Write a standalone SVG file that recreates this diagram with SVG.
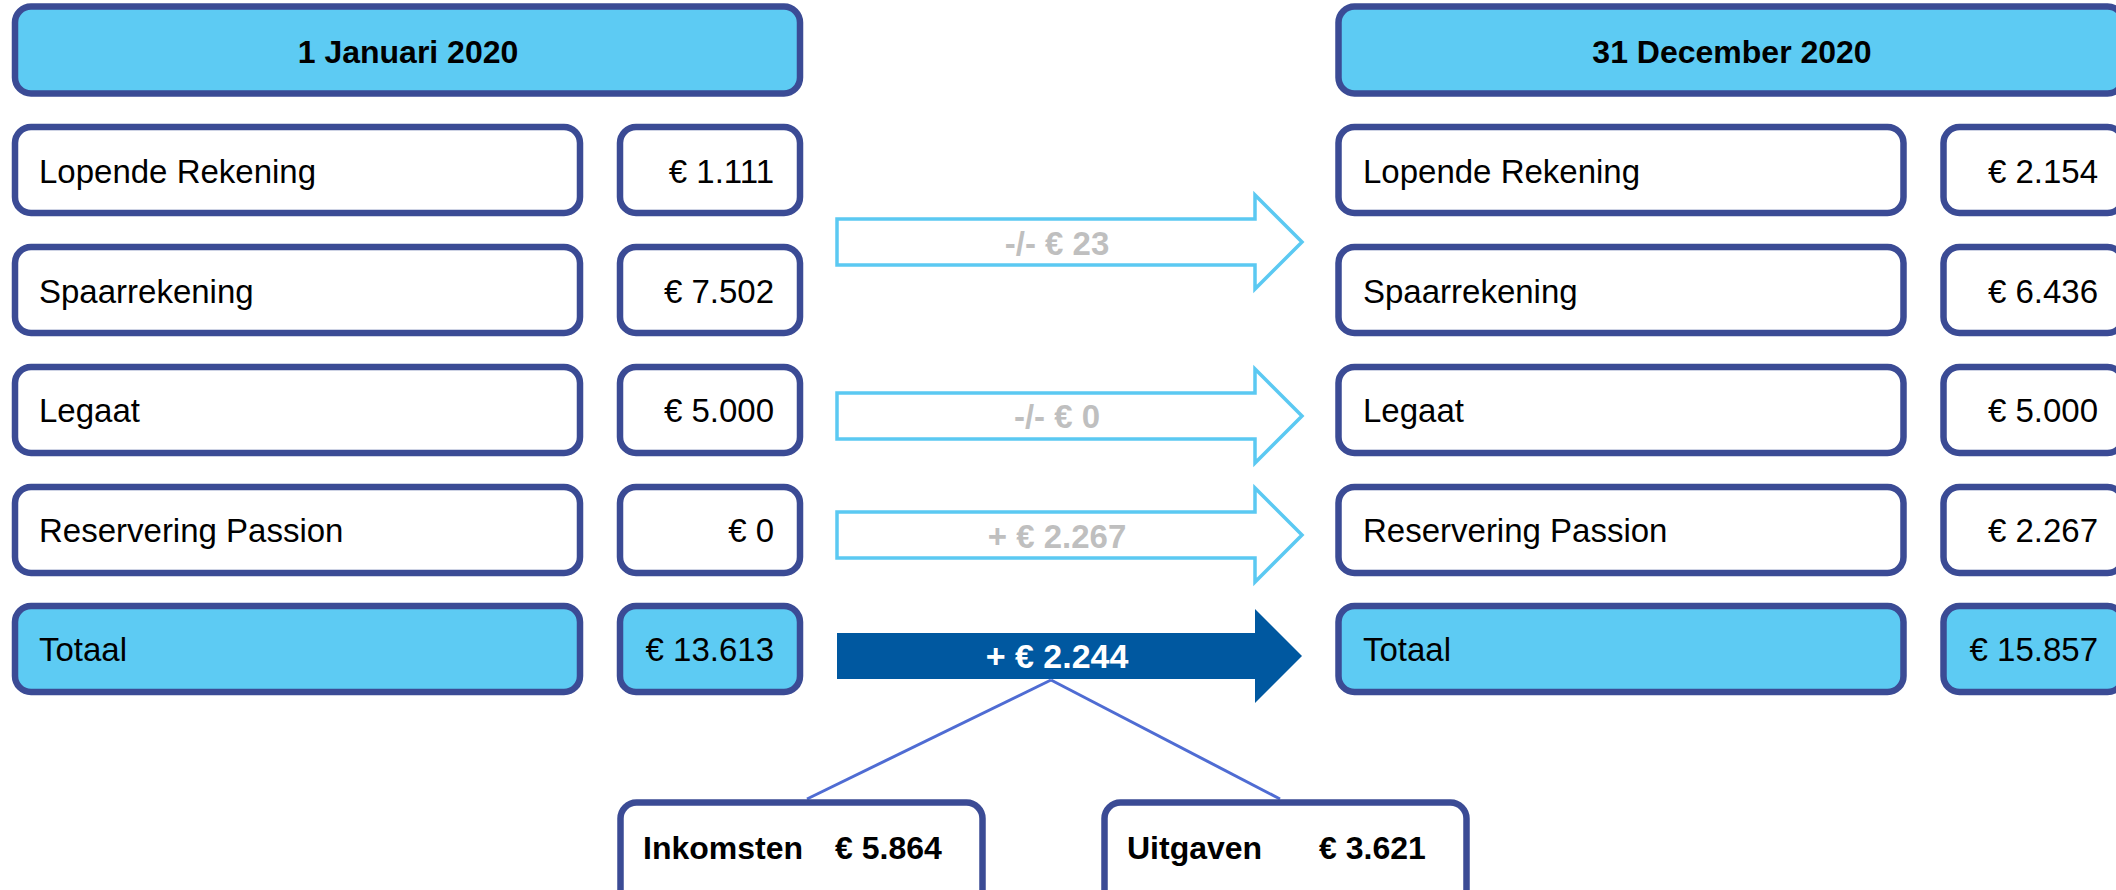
<svg xmlns="http://www.w3.org/2000/svg" width="2116" height="890" viewBox="0 0 2116 890">
<style>
.box{fill:#ffffff;stroke:#3B4B95;stroke-width:6.5}
.hl{fill:#5DCBF3;stroke:#3B4B95;stroke-width:6.5}
.t{font-family:"Liberation Sans",Arial,sans-serif;font-size:33px;fill:#000}
.tv{font-family:"Liberation Sans",Arial,sans-serif;font-size:33px;fill:#000;text-anchor:end}
.th{font-family:"Liberation Sans",Arial,sans-serif;font-size:32px;font-weight:bold;fill:#000;text-anchor:middle}
.al{font-family:"Liberation Sans",Arial,sans-serif;font-size:33px;font-weight:bold;fill:#BFBFBF;text-anchor:middle}
.ad{font-family:"Liberation Sans",Arial,sans-serif;font-size:34px;font-weight:bold;fill:#ffffff;text-anchor:middle}
.tb{font-family:"Liberation Sans",Arial,sans-serif;font-size:32px;font-weight:bold;fill:#000}
.arr{fill:#ffffff;stroke:#5BC9F2;stroke-width:3.5}
.arrd{fill:#0058A0}
.ln{stroke:#4F6CD3;stroke-width:3;fill:none}
</style>
<defs>
<path id="arrow" d="M837,-23 H1255 V-47 L1302,0 L1255,47 V23 H837 Z"/>
</defs>

<g id="header-left"><rect class="hl" x="15" y="6.5" width="785" height="87" rx="16"/><text class="th" x="408" y="63">1 Januari 2020</text></g>
<g id="header-right"><rect class="hl" x="1338.5" y="6.5" width="785" height="87" rx="16"/><text class="th" x="1732" y="63">31 December 2020</text></g>

<g id="l-row1"><rect class="box" x="15" y="127" width="565" height="86" rx="16"/><text class="t" x="39" y="183">Lopende Rekening</text></g>
<g id="l-val1"><rect class="box" x="620" y="127" width="180" height="86" rx="16"/><text class="tv" x="774" y="183">€ 1.111</text></g>
<g id="l-row2"><rect class="box" x="15" y="247" width="565" height="86" rx="16"/><text class="t" x="39" y="303">Spaarrekening</text></g>
<g id="l-val2"><rect class="box" x="620" y="247" width="180" height="86" rx="16"/><text class="tv" x="774" y="303">€ 7.502</text></g>
<g id="l-row3"><rect class="box" x="15" y="367" width="565" height="86" rx="16"/><text class="t" x="39" y="422">Legaat</text></g>
<g id="l-val3"><rect class="box" x="620" y="367" width="180" height="86" rx="16"/><text class="tv" x="774" y="422">€ 5.000</text></g>
<g id="l-row4"><rect class="box" x="15" y="487" width="565" height="86" rx="16"/><text class="t" x="39" y="542">Reservering Passion</text></g>
<g id="l-val4"><rect class="box" x="620" y="487" width="180" height="86" rx="16"/><text class="tv" x="774" y="542">€ 0</text></g>
<g id="l-row5"><rect class="hl" x="15" y="606" width="565" height="86" rx="16"/><text class="t" x="39" y="661">Totaal</text></g>
<g id="l-val5"><rect class="hl" x="620" y="606" width="180" height="86" rx="16"/><text class="tv" x="774" y="661">€ 13.613</text></g>

<g id="r-row1"><rect class="box" x="1338.5" y="127" width="565" height="86" rx="16"/><text class="t" x="1363" y="183">Lopende Rekening</text></g>
<g id="r-val1"><rect class="box" x="1943.5" y="127" width="180" height="86" rx="16"/><text class="tv" x="2098" y="183">€ 2.154</text></g>
<g id="r-row2"><rect class="box" x="1338.5" y="247" width="565" height="86" rx="16"/><text class="t" x="1363" y="303">Spaarrekening</text></g>
<g id="r-val2"><rect class="box" x="1943.5" y="247" width="180" height="86" rx="16"/><text class="tv" x="2098" y="303">€ 6.436</text></g>
<g id="r-row3"><rect class="box" x="1338.5" y="367" width="565" height="86" rx="16"/><text class="t" x="1363" y="422">Legaat</text></g>
<g id="r-val3"><rect class="box" x="1943.5" y="367" width="180" height="86" rx="16"/><text class="tv" x="2098" y="422">€ 5.000</text></g>
<g id="r-row4"><rect class="box" x="1338.5" y="487" width="565" height="86" rx="16"/><text class="t" x="1363" y="542">Reservering Passion</text></g>
<g id="r-val4"><rect class="box" x="1943.5" y="487" width="180" height="86" rx="16"/><text class="tv" x="2098" y="542">€ 2.267</text></g>
<g id="r-row5"><rect class="hl" x="1338.5" y="606" width="565" height="86" rx="16"/><text class="t" x="1363" y="661">Totaal</text></g>
<g id="r-val5"><rect class="hl" x="1943.5" y="606" width="180" height="86" rx="16"/><text class="tv" x="2098" y="661">€ 15.857</text></g>

<g id="connectors">
<g id="arrow1"><use href="#arrow" class="arr" transform="translate(0,242)"/><text class="al" x="1057" y="255">-/- € 23</text></g>
<g id="arrow2"><use href="#arrow" class="arr" transform="translate(0,416)"/><text class="al" x="1057" y="428">-/- € 0</text></g>
<g id="arrow3"><use href="#arrow" class="arr" transform="translate(0,535)"/><text class="al" x="1057" y="548">+ € 2.267</text></g>
<g id="arrow4"><use href="#arrow" class="arrd" transform="translate(0,656)"/><text class="ad" x="1057" y="668">+ € 2.244</text></g>
<line class="ln" x1="1051" y1="680" x2="807" y2="799"/>
<line class="ln" x1="1051" y1="680" x2="1280" y2="799"/>
</g>

<g id="inkomsten"><rect class="box" x="620.5" y="802.5" width="362" height="120" rx="16"/><text class="tb" x="643" y="859">Inkomsten</text><text class="tb" x="835" y="859">€ 5.864</text></g>
<g id="uitgaven"><rect class="box" x="1104.5" y="802.5" width="362" height="120" rx="16"/><text class="tb" x="1127" y="859">Uitgaven</text><text class="tb" x="1319" y="859">€ 3.621</text></g>
</svg>
